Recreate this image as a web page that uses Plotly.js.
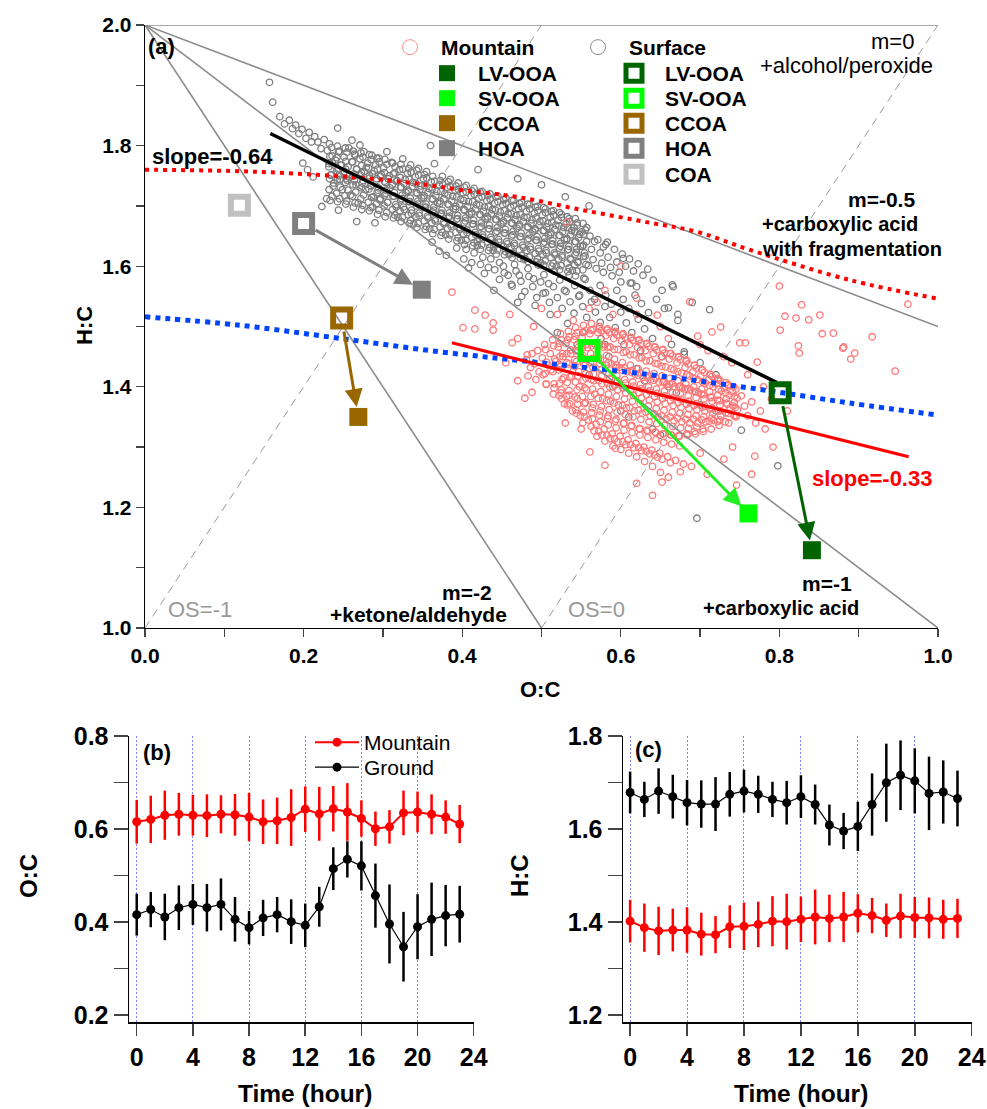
<!DOCTYPE html>
<html><head><meta charset="utf-8">
<script src="https://cdn.plot.ly/plotly-3.0.1.min.js"></script>
<style>body{margin:0;background:#fff}</style>
</head><body><div id="chart" style="width:987px;height:1109px"></div>
<script>
const FONT = 'Liberation Sans, Arial, sans-serif';

// ---------- Panel (a): Van Krevelen ----------
const surfaceCloud = [
[0.157,1.905],[0.161,1.872],[0.170,1.848],[0.176,1.836],[0.182,1.842],[0.186,1.828],[0.190,1.834],[0.194,1.820],[0.198,1.827],[0.203,1.812],[0.207,1.822],[0.210,1.806],[0.214,1.815],[0.218,1.806],[0.222,1.795],[0.226,1.810],[0.243,1.829],[0.261,1.809],[0.271,1.801],[0.223,1.699],[0.244,1.693],[0.267,1.674],[0.290,1.672],[0.229,1.712],[0.205,1.760],[0.212,1.748],[0.199,1.771],
[0.230,1.792],[0.232,1.770],[0.234,1.751],[0.236,1.783],[0.238,1.738],
[0.240,1.776],[0.242,1.758],[0.244,1.790],[0.246,1.744],[0.248,1.768],[0.249,1.727],
[0.251,1.781],[0.253,1.761],[0.255,1.742],[0.257,1.796],[0.258,1.752],[0.259,1.718],
[0.261,1.773],[0.262,1.749],[0.264,1.786],[0.266,1.735],[0.267,1.761],[0.269,1.705],
[0.271,1.778],[0.273,1.755],[0.275,1.742],[0.276,1.790],[0.278,1.727],[0.279,1.764],
[0.281,1.771],[0.283,1.750],[0.285,1.733],[0.286,1.784],[0.288,1.715],[0.289,1.758],[0.287,1.698],
[0.291,1.768],[0.292,1.745],[0.294,1.726],[0.295,1.779],[0.297,1.712],[0.298,1.752],
[0.301,1.763],[0.302,1.741],[0.304,1.721],[0.305,1.790],[0.306,1.706],[0.308,1.750],[0.309,1.730],
[0.311,1.772],[0.312,1.736],[0.314,1.716],[0.315,1.755],[0.317,1.698],[0.318,1.742],[0.319,1.681],
[0.321,1.760],[0.322,1.731],[0.324,1.712],[0.325,1.778],[0.327,1.694],[0.328,1.744],[0.329,1.722],
[0.331,1.754],[0.332,1.726],[0.334,1.707],[0.335,1.768],[0.336,1.688],[0.338,1.739],[0.339,1.670],
[0.341,1.748],[0.342,1.722],[0.344,1.703],[0.345,1.762],[0.346,1.684],[0.348,1.733],[0.349,1.713],
[0.351,1.745],[0.352,1.717],[0.354,1.698],[0.355,1.757],[0.357,1.680],[0.358,1.729],[0.359,1.662],
[0.361,1.740],[0.362,1.712],[0.364,1.693],[0.365,1.770],[0.366,1.675],[0.368,1.724],[0.369,1.705],
[0.371,1.735],[0.372,1.708],[0.374,1.688],[0.375,1.749],[0.377,1.670],[0.378,1.720],[0.379,1.652],
[0.381,1.731],[0.382,1.703],[0.384,1.683],[0.385,1.744],[0.386,1.666],[0.388,1.716],[0.389,1.695],
[0.391,1.726],[0.392,1.699],[0.394,1.679],[0.395,1.738],[0.397,1.661],[0.398,1.711],[0.399,1.643],
[0.401,1.722],[0.402,1.694],[0.404,1.675],[0.405,1.734],[0.406,1.656],[0.408,1.707],[0.409,1.686],
[0.411,1.717],[0.412,1.690],[0.414,1.670],[0.415,1.729],[0.417,1.652],[0.418,1.702],[0.419,1.634],
[0.421,1.713],[0.422,1.686],[0.424,1.666],[0.425,1.724],[0.426,1.648],[0.428,1.698],[0.429,1.678],
[0.431,1.709],[0.432,1.682],[0.434,1.662],[0.435,1.720],[0.437,1.644],[0.438,1.694],[0.439,1.626],
[0.441,1.705],[0.442,1.678],[0.444,1.658],[0.445,1.716],[0.446,1.640],[0.448,1.690],[0.449,1.670],
[0.451,1.702],[0.452,1.675],[0.454,1.655],[0.455,1.713],[0.457,1.637],[0.458,1.687],[0.459,1.619],
[0.461,1.698],[0.462,1.672],[0.464,1.652],[0.465,1.709],[0.466,1.634],[0.468,1.684],[0.469,1.663],
[0.471,1.695],[0.472,1.669],[0.474,1.649],[0.475,1.706],[0.477,1.631],[0.478,1.681],[0.479,1.613],
[0.481,1.691],[0.482,1.665],[0.484,1.646],[0.485,1.702],[0.486,1.628],[0.488,1.677],[0.489,1.657],
[0.491,1.688],[0.492,1.662],[0.494,1.643],[0.495,1.699],[0.497,1.625],[0.498,1.674],[0.499,1.606],
[0.501,1.685],[0.502,1.659],[0.504,1.640],[0.505,1.695],[0.506,1.622],[0.508,1.671],[0.509,1.651],
[0.511,1.681],[0.512,1.656],[0.514,1.637],[0.515,1.692],[0.517,1.619],[0.518,1.668],[0.519,1.600],
[0.521,1.676],[0.522,1.651],[0.524,1.633],[0.525,1.686],[0.526,1.615],[0.528,1.664],[0.529,1.644],
[0.531,1.670],[0.532,1.646],[0.534,1.628],[0.535,1.679],[0.537,1.611],[0.538,1.659],[0.539,1.593],
[0.541,1.664],[0.542,1.641],[0.544,1.623],[0.545,1.672],[0.546,1.606],[0.548,1.653],[0.549,1.633],
[0.551,1.657],[0.553,1.635],[0.555,1.617],[0.557,1.664],[0.559,1.601],
[0.561,1.650],[0.563,1.628],[0.565,1.611],[0.567,1.641],[0.569,1.596],
[0.571,1.644],[0.574,1.622],[0.576,1.605],[0.578,1.590],
[0.581,1.636],[0.584,1.615],[0.587,1.598],[0.589,1.584],
[0.592,1.628],[0.595,1.607],[0.598,1.590],[0.602,1.620],[0.606,1.600],[0.611,1.612],[0.616,1.592],[0.622,1.604],[0.628,1.585],[0.634,1.595],[0.641,1.577],[0.612,1.572],[0.620,1.566],[0.600,1.574],[0.652,1.560],[0.665,1.569],[0.690,1.540],[0.712,1.528],[0.672,1.520],
[0.362,1.640],[0.371,1.625],[0.380,1.618],[0.393,1.630],[0.402,1.612],[0.408,1.597],[0.415,1.622],[0.423,1.603],[0.428,1.588],[0.436,1.612],[0.441,1.594],[0.447,1.578],[0.452,1.600],[0.458,1.585],[0.463,1.567],[0.468,1.592],[0.474,1.575],[0.479,1.558],[0.484,1.583],[0.489,1.566],[0.494,1.548],[0.499,1.574],[0.505,1.556],[0.510,1.540],[0.515,1.566],[0.520,1.548],[0.526,1.530],[0.531,1.558],[0.536,1.541],[0.541,1.522],[0.547,1.550],[0.552,1.533],[0.557,1.515],[0.563,1.541],[0.568,1.524],[0.574,1.507],[0.580,1.533],[0.586,1.515],[0.593,1.498],[0.600,1.524],[0.607,1.506],[0.614,1.490],[0.622,1.512],[0.630,1.496],[0.640,1.480],[0.650,1.500],[0.664,1.470],[0.680,1.458],[0.700,1.440],[0.720,1.420],[0.620,1.430],[0.585,1.450],[0.545,1.470],[0.520,1.490],[0.660,1.400],[0.696,1.182],[0.798,1.269],[0.752,1.328],[0.600,1.360],[0.640,1.330],[0.470,1.540],[0.440,1.560],
[0.385,1.790],[0.360,1.800],[0.420,1.760],[0.470,1.745],[0.500,1.735],[0.530,1.715],[0.560,1.700],[0.578,1.632],[0.583,1.640],[0.603,1.613],[0.614,1.572],[0.666,1.566],[0.660,1.531],[0.672,1.510],[0.680,1.454],
[0.2353,1.797],[0.2365,1.771],[0.2347,1.752],[0.2372,1.733],[0.2358,1.716],
[0.2452,1.791],[0.2467,1.768],[0.2441,1.750],[0.2463,1.731],[0.2455,1.712],
[0.2546,1.789],[0.2561,1.765],[0.2538,1.745],[0.2559,1.726],[0.2544,1.708],
[0.2652,1.784],[0.2668,1.761],[0.2641,1.742],[0.2657,1.723],[0.2649,1.705],
[0.2748,1.781],[0.2763,1.757],[0.2739,1.738],[0.2756,1.718],[0.2745,1.701],
[0.2851,1.777],[0.2867,1.753],[0.2842,1.734],[0.2858,1.714],[0.2846,1.697],
[0.2954,1.773],[0.2968,1.749],[0.2943,1.730],[0.2961,1.710],[0.2949,1.693],
[0.3051,1.769],[0.3066,1.745],[0.3042,1.726],[0.3059,1.706],[0.3047,1.689],
[0.3153,1.765],[0.3169,1.741],[0.3144,1.722],[0.3161,1.702],[0.3148,1.685],
[0.3252,1.761],[0.3267,1.737],[0.3243,1.718],[0.3259,1.698],[0.3246,1.681],
[0.3355,1.756],[0.3369,1.732],[0.3344,1.713],[0.3362,1.693],[0.3348,1.676],
[0.3451,1.751],[0.3466,1.727],[0.3442,1.708],[0.3458,1.688],[0.3446,1.671],
[0.3554,1.746],[0.3568,1.722],[0.3543,1.703],[0.3561,1.683],[0.3547,1.666],
[0.3652,1.741],[0.3667,1.717],[0.3643,1.698],[0.3659,1.678],[0.3646,1.661],
[0.3755,1.736],[0.3769,1.712],[0.3744,1.693],[0.3762,1.673],[0.3748,1.656],
[0.3851,1.732],[0.3866,1.708],[0.3842,1.689],[0.3858,1.669],[0.3846,1.652],
[0.3953,1.727],[0.3968,1.703],[0.3943,1.684],[0.3961,1.664],[0.3947,1.647],
[0.4052,1.723],[0.4067,1.699],[0.4043,1.680],[0.4059,1.660],[0.4046,1.643],
[0.4154,1.719],[0.4169,1.695],[0.4144,1.676],[0.4161,1.656],[0.4148,1.639],
[0.4251,1.715],[0.4266,1.691],[0.4242,1.672],[0.4258,1.652],[0.4246,1.635],
[0.4353,1.711],[0.4368,1.687],[0.4343,1.668],[0.4361,1.648],[0.4347,1.631],
[0.4452,1.707],[0.4467,1.683],[0.4443,1.664],[0.4459,1.644],[0.4446,1.627],
[0.4554,1.704],[0.4569,1.680],[0.4544,1.661],[0.4561,1.641],[0.4548,1.624],
[0.4651,1.701],[0.4666,1.677],[0.4642,1.658],[0.4658,1.638],[0.4646,1.621],
[0.4753,1.698],[0.4768,1.674],[0.4743,1.655],[0.4761,1.635],[0.4747,1.618],
[0.4852,1.695],[0.4867,1.671],[0.4843,1.652],[0.4859,1.632],[0.4846,1.615],
[0.4954,1.692],[0.4969,1.668],[0.4944,1.649],[0.4961,1.629],[0.4948,1.612],
[0.5051,1.689],[0.5066,1.665],[0.5042,1.646],[0.5058,1.626],[0.5046,1.609],
[0.5153,1.685],[0.5168,1.661],[0.5143,1.642],[0.5161,1.622],[0.5147,1.605],
[0.5252,1.681],[0.5267,1.657],[0.5243,1.638],[0.5259,1.618],[0.5246,1.601],
[0.5354,1.674],[0.5369,1.652],[0.5344,1.633],[0.5361,1.613],[0.5348,1.597],
[0.5451,1.668],[0.5466,1.647],[0.5442,1.628],[0.5458,1.608],[0.5446,1.592],
[0.5553,1.660],[0.5568,1.641],[0.5543,1.622],[0.5561,1.603],
[0.2325,1.803],[0.2331,1.782],[0.2318,1.765],[0.2327,1.745],[0.2322,1.727],[0.2334,1.709],
[0.2427,1.799],[0.2419,1.780],[0.2432,1.761],[0.2424,1.743],[0.2416,1.721],[0.2429,1.707],
[0.2524,1.796],[0.2531,1.774],[0.2518,1.757],[0.2528,1.739],[0.2521,1.717],[0.2533,1.703],
[0.2626,1.791],[0.2619,1.773],[0.2632,1.753],[0.2623,1.735],[0.2617,1.716],[0.2629,1.698],
[0.2723,1.788],[0.2731,1.767],[0.2718,1.751],[0.2727,1.730],[0.2721,1.712],[0.2733,1.694],
[0.2827,1.785],[0.2819,1.763],[0.2832,1.746],[0.2824,1.728],[0.2816,1.706],[0.2829,1.692],
[0.2924,1.779],[0.2931,1.761],[0.2918,1.742],[0.2928,1.722],[0.2921,1.704],[0.2933,1.686],
[0.3026,1.777],[0.3019,1.755],[0.3032,1.739],[0.3023,1.718],[0.3017,1.700],[0.3029,1.682],
[0.3123,1.771],[0.3131,1.753],[0.3118,1.734],[0.3127,1.716],[0.3121,1.694],[0.3133,1.680],
[0.3227,1.769],[0.3219,1.747],[0.3232,1.731],[0.3224,1.710],[0.3216,1.692],[0.3229,1.674],
[0.3324,1.762],[0.3331,1.744],[0.3318,1.724],[0.3328,1.707],[0.3321,1.685],[0.3333,1.671],
[0.3426,1.759],[0.3419,1.737],[0.3432,1.721],[0.3423,1.700],[0.3417,1.682],[0.3429,1.664],
[0.3523,1.752],[0.3531,1.734],[0.3518,1.714],[0.3527,1.697],[0.3521,1.675],[0.3533,1.661],
[0.3627,1.749],[0.3619,1.727],[0.3632,1.711],[0.3624,1.690],[0.3616,1.672],[0.3629,1.654],
[0.3724,1.742],[0.3731,1.724],[0.3718,1.704],[0.3728,1.687],[0.3721,1.665],[0.3733,1.651],
[0.3826,1.740],[0.3819,1.718],[0.3832,1.702],[0.3824,1.681],[0.3816,1.663],[0.3829,1.645],
[0.3923,1.733],[0.3931,1.715],[0.3918,1.695],[0.3928,1.678],[0.3921,1.656],[0.3933,1.642],
[0.4027,1.731],[0.4019,1.709],[0.4032,1.693],[0.4024,1.672],[0.4016,1.654],[0.4029,1.636],
[0.4124,1.725],[0.4131,1.707],[0.4118,1.687],[0.4128,1.670],[0.4121,1.648],[0.4133,1.634],
[0.4226,1.723],[0.4219,1.701],[0.4232,1.685],[0.4224,1.664],[0.4216,1.646],[0.4229,1.628],
[0.4323,1.717],[0.4331,1.699],[0.4318,1.679],[0.4328,1.662],[0.4321,1.640],[0.4333,1.626],
[0.4427,1.715],[0.4419,1.693],[0.4432,1.677],[0.4424,1.656],[0.4416,1.638],[0.4429,1.620],
[0.4524,1.710],[0.4531,1.692],[0.4518,1.672],[0.4528,1.655],[0.4521,1.633],[0.4533,1.619],
[0.4627,1.709],[0.4619,1.687],[0.4632,1.671],[0.4624,1.650],[0.4616,1.632],[0.4629,1.614],
[0.4724,1.704],[0.4731,1.686],[0.4718,1.666],[0.4728,1.649],[0.4721,1.627],[0.4733,1.613],
[0.4826,1.703],[0.4819,1.681],[0.4832,1.665],[0.4824,1.644],[0.4816,1.626],[0.4829,1.608],
[0.4923,1.698],[0.4931,1.680],[0.4918,1.660],[0.4928,1.643],[0.4921,1.621],[0.4933,1.607],
[0.5027,1.697],[0.5019,1.675],[0.5032,1.659],[0.5024,1.638],[0.5016,1.620],[0.5029,1.602],
[0.5124,1.691],[0.5131,1.673],[0.5118,1.653],[0.5128,1.636],[0.5121,1.614],[0.5133,1.600],
[0.5227,1.689],[0.5219,1.667],[0.5232,1.651],[0.5224,1.630],[0.5216,1.612],[0.5229,1.594],
[0.5324,1.682],[0.5331,1.664],[0.5318,1.644],[0.5328,1.627],[0.5321,1.605],[0.5333,1.591],
[0.5427,1.679],[0.5419,1.657],[0.5432,1.641],[0.5424,1.620],[0.5416,1.602],[0.5429,1.584],
[0.5524,1.671],[0.5531,1.653],[0.5518,1.633],[0.5528,1.616],[0.5521,1.594],[0.5533,1.580],
[0.405,1.628],[0.412,1.606],[0.419,1.641],[0.426,1.615],[0.433,1.598],[0.440,1.632],[0.447,1.606],[0.453,1.589],[0.460,1.621],[0.466,1.603],[0.472,1.585],[0.478,1.611],[0.483,1.596],[0.490,1.579],[0.496,1.602],[0.503,1.586],[0.509,1.571],[0.516,1.592],[0.523,1.577],[0.529,1.560],[0.535,1.585],[0.542,1.568],[0.548,1.552],[0.555,1.578],[0.561,1.560],[0.567,1.545],[0.574,1.568],[0.581,1.552],[0.588,1.537],[0.595,1.560],[0.603,1.545],[0.610,1.530],[0.618,1.552],[0.626,1.538],[0.635,1.523],[0.645,1.545],[0.655,1.530],[0.475,1.550],[0.492,1.535],[0.511,1.520],[0.533,1.505],[0.552,1.490],[0.575,1.480],[0.604,1.470],[0.625,1.460],[0.652,1.450],[0.462,1.570],[0.502,1.555],
[0.560,1.420],[0.590,1.400],[0.630,1.410],[0.670,1.390],[0.700,1.370],[0.610,1.350],[0.650,1.320],[0.720,1.360],[0.550,1.450],[0.580,1.470]
];
const mountainCloud = [
[0.481,1.445],[0.483,1.418],[0.486,1.432],[0.488,1.455],
[0.491,1.438],[0.493,1.412],[0.495,1.460],[0.497,1.425],
[0.501,1.448],[0.502,1.420],[0.504,1.470],[0.506,1.405],[0.508,1.436],
[0.511,1.455],[0.512,1.428],[0.514,1.478],[0.516,1.398],[0.518,1.442],
[0.521,1.466],[0.522,1.437],[0.524,1.488],[0.525,1.395],[0.527,1.450],[0.528,1.415],[0.529,1.372],
[0.531,1.472],[0.532,1.440],[0.534,1.492],[0.535,1.386],[0.537,1.455],[0.538,1.418],[0.539,1.360],
[0.541,1.478],[0.542,1.445],[0.543,1.498],[0.545,1.380],[0.546,1.460],[0.547,1.425],[0.548,1.400],[0.549,1.352],
[0.551,1.482],[0.552,1.452],[0.553,1.502],[0.554,1.372],[0.555,1.436],[0.556,1.414],[0.557,1.395],[0.558,1.465],[0.559,1.345],
[0.561,1.488],[0.562,1.455],[0.563,1.505],[0.564,1.365],[0.565,1.432],[0.566,1.410],[0.567,1.388],[0.568,1.470],[0.569,1.338],
[0.571,1.490],[0.572,1.448],[0.573,1.500],[0.574,1.360],[0.575,1.428],[0.576,1.405],[0.577,1.380],[0.578,1.466],[0.579,1.330],[0.570,1.318],
[0.581,1.485],[0.582,1.452],[0.583,1.496],[0.584,1.352],[0.585,1.422],[0.586,1.400],[0.587,1.376],[0.588,1.438],[0.589,1.322],[0.580,1.310],
[0.591,1.480],[0.592,1.446],[0.593,1.492],[0.594,1.346],[0.595,1.418],[0.596,1.395],[0.597,1.370],[0.598,1.432],[0.599,1.318],[0.590,1.302],
[0.601,1.476],[0.602,1.440],[0.603,1.488],[0.604,1.340],[0.605,1.412],[0.606,1.390],[0.607,1.365],[0.608,1.425],[0.609,1.312],[0.600,1.296],
[0.611,1.470],[0.612,1.436],[0.613,1.482],[0.614,1.336],[0.615,1.408],[0.616,1.386],[0.617,1.360],[0.618,1.421],[0.619,1.306],[0.610,1.290],
[0.621,1.465],[0.622,1.430],[0.623,1.478],[0.624,1.330],[0.625,1.404],[0.626,1.382],[0.627,1.356],[0.628,1.416],[0.629,1.300],[0.620,1.284],
[0.631,1.460],[0.632,1.426],[0.633,1.472],[0.634,1.326],[0.635,1.400],[0.636,1.378],[0.637,1.352],[0.638,1.412],[0.639,1.295],[0.630,1.276],
[0.641,1.455],[0.642,1.422],[0.643,1.466],[0.644,1.324],[0.645,1.396],[0.646,1.375],[0.647,1.350],[0.648,1.408],[0.649,1.290],[0.640,1.268],
[0.651,1.450],[0.652,1.418],[0.653,1.462],[0.654,1.322],[0.655,1.393],[0.656,1.372],[0.657,1.347],[0.658,1.404],[0.659,1.284],[0.650,1.258],
[0.661,1.446],[0.662,1.414],[0.663,1.455],[0.664,1.320],[0.665,1.390],[0.666,1.369],[0.667,1.344],[0.668,1.400],[0.669,1.278],[0.660,1.250],
[0.671,1.440],[0.672,1.410],[0.673,1.450],[0.674,1.318],[0.675,1.388],[0.676,1.366],[0.677,1.342],[0.678,1.398],[0.679,1.272],
[0.681,1.432],[0.682,1.405],[0.683,1.444],[0.684,1.320],[0.685,1.385],[0.686,1.364],[0.687,1.340],[0.688,1.395],[0.689,1.268],
[0.691,1.425],[0.692,1.400],[0.693,1.436],[0.694,1.322],[0.695,1.382],[0.696,1.362],[0.697,1.340],[0.698,1.390],
[0.701,1.418],[0.702,1.396],[0.703,1.428],[0.704,1.326],[0.705,1.380],[0.706,1.360],[0.707,1.342],
[0.711,1.412],[0.712,1.392],[0.713,1.420],[0.714,1.330],[0.715,1.376],[0.716,1.356],[0.717,1.344],
[0.721,1.405],[0.722,1.386],[0.723,1.412],[0.724,1.336],[0.725,1.370],[0.726,1.352],
[0.731,1.398],[0.733,1.380],[0.735,1.404],[0.736,1.340],[0.738,1.365],
[0.741,1.392],[0.743,1.374],[0.745,1.350],[0.747,1.362],
[0.752,1.385],[0.756,1.368],[0.760,1.352],[0.765,1.375],[0.770,1.340],[0.776,1.360],[0.782,1.330],
[0.800,1.567],[0.828,1.536],[0.807,1.517],[0.821,1.514],[0.837,1.511],[0.851,1.519],[0.801,1.494],[0.854,1.488],[0.868,1.489],[0.917,1.483],[0.824,1.468],[0.825,1.456],[0.881,1.466],[0.895,1.456],[0.890,1.446],[0.946,1.426],[0.962,1.537],[0.687,1.541],[0.715,1.491],[0.726,1.499],[0.697,1.484],[0.750,1.473],[0.757,1.473],[0.772,1.441],[0.792,1.300],[0.769,1.285],[0.746,1.237],[0.880,1.464],
[0.416,1.527],[0.429,1.519],[0.401,1.498],[0.416,1.496],[0.439,1.494],[0.387,1.557],[0.463,1.473],[0.482,1.453],[0.479,1.381],[0.488,1.391],[0.439,1.506],[0.455,1.440],[0.470,1.410],[0.460,1.520],[0.490,1.500],[0.470,1.480],
[0.561,1.292],[0.593,1.298],[0.652,1.242],[0.675,1.259],[0.709,1.255],[0.765,1.255],[0.741,1.300],[0.620,1.240],[0.640,1.220],[0.580,1.270],[0.700,1.290],[0.730,1.280],[0.550,1.330],[0.530,1.340],
[0.532,1.673],[0.600,1.600],[0.580,1.560],[0.620,1.520],[0.650,1.500],[0.660,1.480],[0.700,1.470],[0.730,1.450],[0.760,1.420],[0.780,1.400],[0.790,1.380],[0.810,1.360],[0.740,1.440],[0.710,1.460],[0.500,1.530],[0.520,1.520],[0.540,1.510],[0.560,1.530],[0.590,1.520],[0.570,1.540],[0.646,1.519],[0.620,1.547],
[0.5052,1.462],[0.5064,1.441],[0.5045,1.422],[0.5058,1.404],
[0.5153,1.468],[0.5167,1.446],[0.5144,1.425],[0.5159,1.405],[0.5148,1.388],
[0.5252,1.478],[0.5266,1.455],[0.5243,1.434],[0.5259,1.412],[0.5247,1.390],[0.5255,1.380],
[0.5351,1.483],[0.5366,1.461],[0.5343,1.438],[0.5358,1.416],[0.5346,1.394],[0.5354,1.372],
[0.5453,1.490],[0.5467,1.466],[0.5444,1.442],[0.5459,1.418],[0.5448,1.395],[0.5456,1.371],[0.5441,1.356],
[0.5552,1.493],[0.5567,1.470],[0.5543,1.446],[0.5558,1.422],[0.5546,1.398],[0.5554,1.374],[0.5541,1.350],
[0.5651,1.495],[0.5666,1.472],[0.5642,1.447],[0.5657,1.421],[0.5645,1.396],[0.5653,1.371],[0.5641,1.347],[0.5662,1.327],
[0.5753,1.493],[0.5768,1.470],[0.5744,1.444],[0.5759,1.418],[0.5748,1.392],[0.5756,1.367],[0.5741,1.342],[0.5763,1.320],
[0.5852,1.490],[0.5867,1.466],[0.5843,1.440],[0.5858,1.414],[0.5846,1.388],[0.5854,1.362],[0.5842,1.337],[0.5864,1.314],
[0.5951,1.486],[0.5966,1.462],[0.5942,1.436],[0.5957,1.410],[0.5945,1.384],[0.5953,1.358],[0.5941,1.332],[0.5962,1.309],
[0.6053,1.482],[0.6068,1.458],[0.6044,1.432],[0.6059,1.406],[0.6048,1.380],[0.6056,1.354],[0.6041,1.328],[0.6063,1.304],
[0.6152,1.477],[0.6167,1.453],[0.6143,1.427],[0.6158,1.401],[0.6146,1.376],[0.6154,1.350],[0.6142,1.324],[0.6164,1.299],
[0.6251,1.472],[0.6266,1.448],[0.6242,1.423],[0.6257,1.397],[0.6245,1.372],[0.6253,1.346],[0.6241,1.320],[0.6262,1.294],
[0.6353,1.467],[0.6368,1.443],[0.6344,1.418],[0.6359,1.393],[0.6348,1.368],[0.6356,1.342],[0.6341,1.316],[0.6363,1.289],
[0.6452,1.461],[0.6467,1.438],[0.6443,1.414],[0.6458,1.389],[0.6446,1.364],[0.6454,1.339],[0.6442,1.312],[0.6464,1.283],
[0.6551,1.456],[0.6566,1.433],[0.6542,1.409],[0.6557,1.385],[0.6545,1.361],[0.6553,1.336],[0.6541,1.308],
[0.6653,1.451],[0.6668,1.428],[0.6644,1.405],[0.6659,1.382],[0.6648,1.358],[0.6656,1.334],[0.6641,1.305],
[0.6752,1.445],[0.6767,1.423],[0.6743,1.401],[0.6758,1.379],[0.6746,1.356],[0.6754,1.332],[0.6742,1.302],
[0.6851,1.438],[0.6866,1.418],[0.6842,1.397],[0.6857,1.376],[0.6845,1.354],[0.6853,1.331],
[0.6953,1.431],[0.6968,1.412],[0.6944,1.392],[0.6959,1.372],[0.6948,1.352],[0.6956,1.333],
[0.7052,1.424],[0.7067,1.406],[0.7043,1.387],[0.7058,1.368],[0.7046,1.350],
[0.7151,1.417],[0.7166,1.400],[0.7142,1.382],[0.7157,1.364],[0.7145,1.348],
[0.7253,1.410],[0.7268,1.393],[0.7244,1.377],[0.7259,1.360],[0.7248,1.345],
[0.7352,1.402],[0.7367,1.386],[0.7343,1.371],[0.7358,1.356],
[0.7451,1.396],[0.7466,1.381],[0.7442,1.366],[0.7458,1.352],
[0.5225,1.472],[0.5231,1.450],[0.5219,1.428],[0.5228,1.406],[0.5222,1.385],
[0.5327,1.478],[0.5319,1.455],[0.5332,1.431],[0.5324,1.407],[0.5316,1.384],[0.5329,1.370],
[0.5424,1.484],[0.5431,1.460],[0.5418,1.434],[0.5428,1.408],[0.5421,1.383],[0.5433,1.362],
[0.5526,1.491],[0.5519,1.465],[0.5532,1.438],[0.5524,1.411],[0.5516,1.384],[0.5529,1.358],[0.5521,1.340],
[0.5623,1.494],[0.5631,1.468],[0.5618,1.440],[0.5628,1.412],[0.5621,1.384],[0.5633,1.357],[0.5626,1.334],
[0.5727,1.496],[0.5719,1.468],[0.5732,1.439],[0.5724,1.410],[0.5716,1.381],[0.5729,1.353],[0.5722,1.326],
[0.5824,1.494],[0.5831,1.466],[0.5818,1.436],[0.5828,1.406],[0.5821,1.377],[0.5833,1.348],[0.5826,1.320],
[0.5926,1.490],[0.5919,1.462],[0.5932,1.432],[0.5924,1.402],[0.5916,1.373],[0.5929,1.343],[0.5921,1.314],
[0.6023,1.486],[0.6031,1.457],[0.6018,1.428],[0.6028,1.398],[0.6021,1.369],[0.6033,1.339],[0.6026,1.309],
[0.6127,1.481],[0.6119,1.453],[0.6132,1.424],[0.6124,1.394],[0.6116,1.365],[0.6129,1.335],[0.6122,1.304],
[0.6224,1.476],[0.6231,1.448],[0.6218,1.419],[0.6228,1.390],[0.6221,1.361],[0.6233,1.331],[0.6226,1.299],
[0.6326,1.471],[0.6319,1.443],[0.6332,1.415],[0.6324,1.387],[0.6316,1.358],[0.6329,1.328],[0.6321,1.293],
[0.6423,1.466],[0.6431,1.439],[0.6418,1.411],[0.6428,1.384],[0.6421,1.355],[0.6433,1.325],[0.6426,1.287],
[0.6527,1.461],[0.6519,1.434],[0.6532,1.407],[0.6524,1.380],[0.6516,1.352],[0.6529,1.322],[0.6522,1.280],
[0.6624,1.455],[0.6631,1.430],[0.6618,1.404],[0.6628,1.377],[0.6621,1.350],[0.6633,1.320],[0.6626,1.274],
[0.6726,1.449],[0.6719,1.425],[0.6732,1.400],[0.6724,1.374],[0.6716,1.348],[0.6729,1.319],
[0.6823,1.442],[0.6831,1.420],[0.6818,1.396],[0.6828,1.371],[0.6821,1.346],[0.6833,1.322],
[0.6927,1.435],[0.6919,1.414],[0.6932,1.392],[0.6924,1.369],[0.6916,1.346],[0.6929,1.326],
[0.7024,1.428],[0.7031,1.408],[0.7018,1.388],[0.7028,1.366],[0.7021,1.345],[0.7033,1.330],
[0.7126,1.421],[0.7119,1.402],[0.7132,1.383],[0.7124,1.363],[0.7116,1.343],
[0.7223,1.414],[0.7231,1.396],[0.7218,1.378],[0.7228,1.360],[0.7221,1.342],
[0.7327,1.407],[0.7319,1.390],[0.7332,1.373],[0.7324,1.357],[0.7316,1.342],
[0.7424,1.400],[0.7431,1.384],[0.7418,1.368],[0.7428,1.352]
];

const factorNames = ['LV-OOA', 'SV-OOA', 'CCOA', 'HOA', 'COA'];
const factorColors = ['#006400', '#00ff00', '#996600', '#7f7f7f', '#c0c0c0'];
const surfaceFactorOC = [0.801, 0.560, 0.248, 0.200, 0.119];
const surfaceFactorHC = [1.390, 1.460, 1.514, 1.671, 1.701];
const mountainFactorOC = [0.841, 0.761, 0.269, 0.349];
const mountainFactorHC = [1.129, 1.190, 1.350, 1.561];

const surfaceFitOC = [0.158, 0.797];
const surfaceFitHC = [1.820, 1.407];
const mountainFitOC = [0.387, 0.963];
const mountainFitHC = [1.473, 1.284];
const redDotOC = [0, 0.132, 0.258, 0.343, 0.401, 0.469, 0.552, 0.637, 0.696, 0.763, 0.889, 1.0];
const redDotHC = [1.760, 1.757, 1.748, 1.737, 1.726, 1.715, 1.693, 1.672, 1.657, 1.627, 1.577, 1.546];
const blueDotOC = [0, 0.12, 0.242, 0.372, 0.498, 0.637, 0.763, 0.889, 1.0];
const blueDotHC = [1.516, 1.502, 1.481, 1.458, 1.440, 1.420, 1.398, 1.373, 1.353];

const slopeLineOC = [[0, 1], [0, 1], [0, 1], [0, 0.5]];
const slopeLineHC = [[2, 2], [2, 1.5], [2, 1], [2, 1]];
const osLineOC = [[0, 0.5], [0.5, 1]];
const osLineHC = [[1, 2], [1, 2]];

const vkTickVals = [1.0, 1.1, 1.2, 1.3, 1.4, 1.5, 1.6, 1.7, 1.8, 1.9, 2.0];
const vkTickText = ['1.0', '', '1.2', '', '1.4', '', '1.6', '', '1.8', '', '2.0'];
const ocTickVals = [0, 0.1, 0.2, 0.3, 0.4, 0.5, 0.6, 0.7, 0.8, 0.9, 1.0];
const ocTickText = ['0.0', '', '0.2', '', '0.4', '', '0.6', '', '0.8', '', '1.0'];

// ---------- Panels (b),(c): diurnal ----------
const hours = [0,1,2,3,4,5,6,7,8,9,10,11,12,13,14,15,16,17,18,19,20,21,22,23];
const mountainOC = [0.616,0.621,0.630,0.632,0.630,0.629,0.632,0.631,0.626,0.616,0.618,0.625,0.643,0.633,0.644,0.637,0.623,0.601,0.605,0.635,0.637,0.632,0.626,0.611];
const mountainOCerr = [0.047,0.051,0.053,0.046,0.044,0.046,0.041,0.045,0.052,0.048,0.050,0.061,0.049,0.058,0.049,0.062,0.039,0.037,0.036,0.048,0.044,0.043,0.036,0.041];
const groundOC = [0.416,0.427,0.411,0.431,0.438,0.431,0.438,0.406,0.388,0.409,0.416,0.401,0.393,0.433,0.515,0.535,0.521,0.457,0.396,0.347,0.390,0.406,0.414,0.417];
const groundOCerr = [0.045,0.038,0.050,0.048,0.044,0.051,0.056,0.048,0.036,0.039,0.038,0.048,0.047,0.043,0.046,0.039,0.053,0.069,0.085,0.075,0.070,0.079,0.066,0.061];
const mountainHC = [1.402,1.388,1.381,1.383,1.383,1.374,1.373,1.390,1.391,1.395,1.402,1.401,1.406,1.411,1.408,1.411,1.419,1.414,1.404,1.413,1.410,1.409,1.406,1.408];
const mountainHCerr = [0.046,0.052,0.052,0.046,0.049,0.046,0.040,0.046,0.051,0.049,0.054,0.060,0.049,0.059,0.051,0.054,0.041,0.038,0.036,0.048,0.044,0.044,0.042,0.042];
const groundHC = [1.679,1.664,1.682,1.670,1.657,1.654,1.654,1.675,1.682,1.675,1.664,1.657,1.670,1.653,1.609,1.596,1.606,1.653,1.700,1.716,1.704,1.677,1.680,1.666];
const groundHCerr = [0.045,0.038,0.049,0.047,0.049,0.051,0.058,0.048,0.046,0.040,0.038,0.047,0.046,0.043,0.044,0.039,0.053,0.067,0.084,0.075,0.070,0.079,0.068,0.060];
const hourTicks = [0, 4, 8, 12, 16, 20, 24];
const ocDiurnalTickVals = [0.2, 0.3, 0.4, 0.5, 0.6, 0.7, 0.8];
const ocDiurnalTickText = ['0.2', '', '0.4', '', '0.6', '', '0.8'];
const hcDiurnalTickVals = [1.2, 1.3, 1.4, 1.5, 1.6, 1.7, 1.8];
const hcDiurnalTickText = ['1.2', '', '1.4', '', '1.6', '', '1.8'];

// ---------- helpers ----------
const W = 987, H = 1109;
const px = v => v / W;
const py = v => 1 - v / H;

const traces = [];
traces.push({x: surfaceCloud.map(p => p[0]), y: surfaceCloud.map(p => p[1]), type: 'scatter', mode: 'markers',
  marker: {symbol: 'circle-open', size: 6.5, color: 'rgb(125,125,125)', line: {width: 1.3}}, showlegend: false, hoverinfo: 'skip'});
traces.push({x: mountainCloud.map(p => p[0]), y: mountainCloud.map(p => p[1]), type: 'scatter', mode: 'markers',
  marker: {symbol: 'circle-open', size: 6.5, color: 'rgb(255,118,118)', line: {width: 1.3}}, showlegend: false, hoverinfo: 'skip'});
for (let i = 0; i < slopeLineOC.length; i++) {
  traces.push({x: slopeLineOC[i], y: slopeLineHC[i], mode: 'lines', line: {color: '#8c8c8c', width: 1.6}, showlegend: false, hoverinfo: 'skip'});
}
for (let i = 0; i < osLineOC.length; i++) {
  traces.push({x: osLineOC[i], y: osLineHC[i], mode: 'lines', line: {color: '#9a9a9a', width: 1, dash: '8px,6px'}, showlegend: false, hoverinfo: 'skip'});
}
traces.push({x: redDotOC, y: redDotHC, mode: 'lines', line: {color: '#ff0000', width: 4, dash: '4px,5px', shape: 'spline'}, showlegend: false, hoverinfo: 'skip'});
traces.push({x: blueDotOC, y: blueDotHC, mode: 'lines', line: {color: '#0044ff', width: 5, dash: '5px,5px', shape: 'spline'}, showlegend: false, hoverinfo: 'skip'});
traces.push({x: surfaceFitOC, y: surfaceFitHC, mode: 'lines', line: {color: '#000000', width: 3.5}, showlegend: false, hoverinfo: 'skip'});
traces.push({x: mountainFitOC, y: mountainFitHC, mode: 'lines', line: {color: '#ff0000', width: 3.2}, showlegend: false, hoverinfo: 'skip'});

// legend header proxies (legend-only, no data)
traces.push({x: [null], y: [null], mode: 'markers', name: 'Mountain', legend: 'legend',
  marker: {symbol: 'circle-open', size: 15, color: 'rgb(255,140,140)', line: {width: 1}}});
traces.push({x: [null], y: [null], mode: 'markers', name: 'Surface', legend: 'legend6',
  marker: {symbol: 'circle-open', size: 15, color: 'rgb(140,140,140)', line: {width: 1}}});

for (let i = 0; i < mountainFactorOC.length; i++) {
  traces.push({x: [mountainFactorOC[i]], y: [mountainFactorHC[i]], mode: 'markers', name: factorNames[i], legend: 'legend' + (2 + i),
    marker: {symbol: 'square', size: 18, color: factorColors[i]}});
}
for (let i = 0; i < surfaceFactorOC.length; i++) {
  traces.push({x: [surfaceFactorOC[i]], y: [surfaceFactorHC[i]], mode: 'markers', name: factorNames[i], legend: 'legend' + (7 + i),
    marker: {symbol: 'square-open', size: 17, color: factorColors[i], line: {width: 6}}});
}

const diurnal = [
  {y: mountainOC, e: mountainOCerr, c: '#ff0000', lw: 2, name: 'Mountain', xa: 'x2', ya: 'y2', leg: 'legend12', show: true},
  {y: groundOC, e: groundOCerr, c: '#000000', lw: 1.2, name: 'Ground', xa: 'x2', ya: 'y2', leg: 'legend13', show: true},
  {y: mountainHC, e: mountainHCerr, c: '#ff0000', lw: 2, name: 'Mountain', xa: 'x3', ya: 'y3', leg: 'legend12', show: false},
  {y: groundHC, e: groundHCerr, c: '#000000', lw: 1.2, name: 'Ground', xa: 'x3', ya: 'y3', leg: 'legend13', show: false}
];
diurnal.forEach(d => {
  traces.push({x: hours, y: d.y, xaxis: d.xa, yaxis: d.ya, mode: 'lines+markers', name: d.name,
    legend: d.leg, showlegend: d.show,
    line: {color: d.c, width: d.lw}, marker: {color: d.c, size: 9},
    error_y: {type: 'data', array: d.e, visible: true, color: d.c, thickness: 2.5, width: 0}});
});

function ann(text, x, y, opts) {
  return Object.assign({text: text, xref: 'paper', yref: 'paper', x: px(x), y: py(y), showarrow: false,
    xanchor: 'left', yanchor: 'middle', font: {family: FONT, size: 20, color: '#000'}}, opts || {});
}
const f = (s, c) => ({family: FONT, size: s, color: c || '#000'});
const annotations = [
  ann('<b>(a)</b>', 146, 47, {font: f(22)}),
  ann('<b>slope=-0.64</b>', 150, 157, {font: f(22)}),
  ann('<b>slope=-0.33</b>', 810, 478, {font: f(22, '#ff0000')}),
  ann('m=0', 869, 41, {font: f(22)}),
  ann('+alcohol/peroxide', 758, 66, {font: f(22)}),
  ann('<b>m=-0.5</b>', 846, 200, {font: f(21)}),
  ann('<b>+carboxylic acid</b>', 760, 224),
  ann('<b>with fragmentation</b>', 760, 249),
  ann('<b>m=-2</b>', 440, 592, {font: f(21)}),
  ann('<b>+ketone/aldehyde</b>', 328, 615, {font: f(21)}),
  ann('<b>m=-1</b>', 800, 583, {font: f(21)}),
  ann('<b>+carboxylic acid</b>', 701, 608),
  ann('OS=-1', 166, 609, {font: f(22, '#999')}),
  ann('OS=0', 566, 609, {font: f(22, '#999')}),
  ann('<b>O:C</b>', 540, 689, {xanchor: 'center', font: f(22)}),
  ann('<b>H:C</b>', 84, 326, {xanchor: 'center', textangle: -90, font: f(22)}),
  ann('<b>O:C</b>', 28, 876, {xanchor: 'center', textangle: -90, font: f(24)}),
  ann('<b>H:C</b>', 519, 876, {xanchor: 'center', textangle: -90, font: f(24)}),
  ann('<b>Time (hour)</b>', 305, 1093, {xanchor: 'center', font: f(24.5)}),
  ann('<b>Time (hour)</b>', 801, 1093, {xanchor: 'center', font: f(24.5)}),
  ann('<b>(b)</b>', 141, 752, {font: f(22)}),
  ann('<b>(c)</b>', 633, 749, {font: f(22)})
];
const arrowColors = ['#006400', '#22ee22', '#996600', '#7f7f7f'];
for (let i = 0; i < mountainFactorOC.length; i++) {
  annotations.push({xref: 'x', yref: 'y', axref: 'x', ayref: 'y', x: mountainFactorOC[i], y: mountainFactorHC[i],
    ax: surfaceFactorOC[i], ay: surfaceFactorHC[i], text: '', showarrow: true, arrowhead: 2, arrowsize: 1.2,
    arrowwidth: 3, arrowcolor: arrowColors[i], standoff: 10, startstandoff: 12});
}

const tickFontA = {family: FONT, size: 21, color: '#000', weight: 'bold'};
const tickFontB = {family: FONT, size: 25, color: '#000', weight: 'bold'};
const boldLeg = {family: FONT, size: 21, color: '#000', weight: 'bold'};
const plainLeg = {family: FONT, size: 21, color: '#000'};
function leg(symX, cy, font, w) {
  return {bgcolor: 'rgba(0,0,0,0)', borderwidth: 0, font: font, xanchor: 'left', yanchor: 'top', itemclick: false,
    itemwidth: w, x: px(symX - 5 - w / 2), y: py(cy - 21)};
}

const layout = {
  width: W, height: H, margin: {l: 0, r: 0, t: 0, b: 0},
  paper_bgcolor: '#fff', plot_bgcolor: 'rgba(0,0,0,0)',
  font: {family: FONT},
  showlegend: true,
  xaxis: {domain: [px(145), px(938)], range: [0, 1], tickvals: ocTickVals, ticktext: ocTickText, ticks: 'outside', ticklen: 8,
    tickwidth: 1.3, showline: true, linecolor: '#000', linewidth: 1.3, showgrid: false, zeroline: false, tickfont: tickFontA, anchor: 'y'},
  yaxis: {domain: [py(628), py(25)], range: [1, 2], tickvals: vkTickVals, ticktext: vkTickText, ticks: 'outside', ticklen: 8,
    tickwidth: 1.3, showline: true, linecolor: '#000', linewidth: 1.3, showgrid: false, zeroline: false, tickfont: tickFontA, anchor: 'x'},
  xaxis2: {domain: [px(129), px(474)], range: [-0.55, 24.02], tickvals: hourTicks, ticks: 'outside', ticklen: 12, tickwidth: 1.5,
    showline: true, linecolor: '#000', linewidth: 1.5, showgrid: true, gridcolor: '#7f7fff', griddash: '2px,2px', gridwidth: 1,
    zeroline: false, tickfont: tickFontB, anchor: 'y2'},
  yaxis2: {domain: [py(1022), py(736)], range: [0.185, 0.8005], tickvals: ocDiurnalTickVals, ticktext: ocDiurnalTickText,
    ticks: 'outside', ticklen: 14, tickwidth: 1.5, showline: true, linecolor: '#000', linewidth: 1.5, showgrid: false,
    zeroline: false, tickfont: tickFontB, anchor: 'x2'},
  xaxis3: {domain: [px(623), px(972)], range: [-0.5, 24.02], tickvals: hourTicks, ticks: 'outside', ticklen: 12, tickwidth: 1.5,
    showline: true, linecolor: '#000', linewidth: 1.5, showgrid: true, gridcolor: '#7f7fff', griddash: '2px,2px', gridwidth: 1,
    zeroline: false, tickfont: tickFontB, anchor: 'y3'},
  yaxis3: {domain: [py(1022), py(736)], range: [1.185, 1.8005], tickvals: hcDiurnalTickVals, ticktext: hcDiurnalTickText,
    ticks: 'outside', ticklen: 14, tickwidth: 1.5, showline: true, linecolor: '#000', linewidth: 1.5, showgrid: false,
    zeroline: false, tickfont: tickFontB, anchor: 'x3'},
  legend: leg(410, 48, boldLeg, 52),
  legend2: leg(447, 74, boldLeg, 52),
  legend3: leg(447, 99, boldLeg, 52),
  legend4: leg(447, 124, boldLeg, 52),
  legend5: leg(447, 149, boldLeg, 52),
  legend6: leg(598, 48, boldLeg, 52),
  legend7: leg(634, 74, boldLeg, 52),
  legend8: leg(634, 99, boldLeg, 52),
  legend9: leg(634, 124, boldLeg, 52),
  legend10: leg(634, 149, boldLeg, 52),
  legend11: leg(634, 175, boldLeg, 52),
  legend12: leg(337, 743, plainLeg, 44),
  legend13: leg(337, 768, plainLeg, 44),
  annotations: annotations
};

Plotly.newPlot('chart', traces, layout, {staticPlot: true, displayModeBar: false});
</script></body></html>
